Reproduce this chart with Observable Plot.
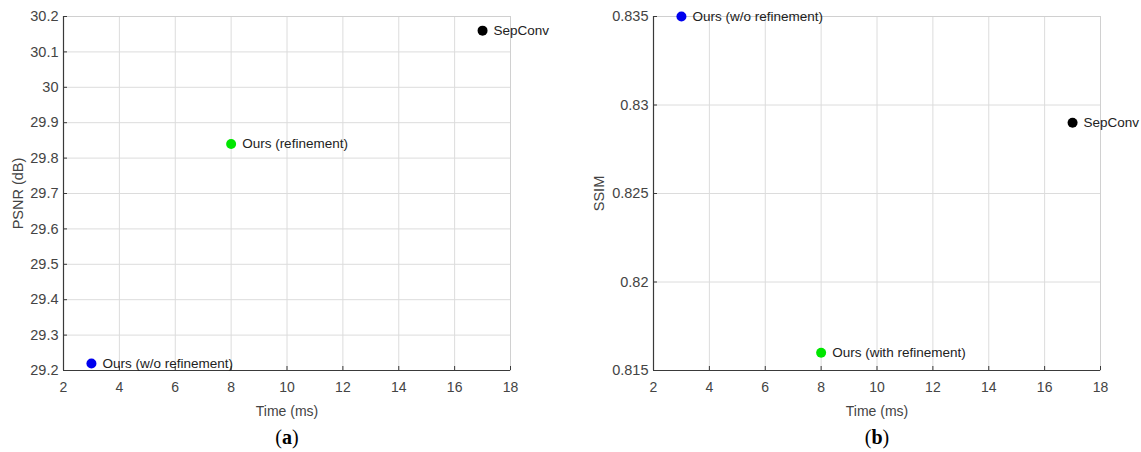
<!DOCTYPE html>
<html>
<head>
<meta charset="utf-8">
<script src="https://cdn.jsdelivr.net/npm/d3@7"></script>
<script src="https://cdn.jsdelivr.net/npm/@observablehq/plot@0.6"></script>
<style>
  html, body { margin: 0; padding: 0; background: #fff; }
  #wrap { position: relative; width: 1141px; height: 452px; overflow: hidden; font-family: "Liberation Sans", Arial, sans-serif; }
  .panel { position: absolute; top: 0; }
  .cap { position: absolute; top: 426px; font-family: "Liberation Serif", "DejaVu Serif", serif; font-size: 20px; color: #000; transform: translateX(-50%); }
  .cap b { font-weight: bold; }
</style>
</head>
<body>
<div id="wrap"></div>
<script>
// ---- data ----
const methodsA = ["Ours (w/o refinement)", "Ours (refinement)", "SepConv"];
const timeA = [3, 8, 17];
const psnrA = [29.22, 29.84, 30.16];

const methodsB = ["Ours (w/o refinement)", "Ours (with refinement)", "SepConv"];
const timeB = [3, 8, 17];
const ssimB = [0.835, 0.816, 0.829];

const colorsByMethod = ["#0000ee", "#00e600", "#000000"];

const xTicks = [2, 4, 6, 8, 10, 12, 14, 16, 18];
const yTicksA = [29.2, 29.3, 29.4, 29.5, 29.6, 29.7, 29.8, 29.9, 30.0, 30.1, 30.2];
const yTicksB = [0.815, 0.82, 0.825, 0.83, 0.835];

const wrap = document.getElementById("wrap");

function panel({methods, xs, ys, yTicks, yDomain, yLabel, yDigits, left, width, mLeft, mRight, yLabelOffset}) {
  const data = methods.map((m, i) => ({m, x: xs[i], y: ys[i], c: colorsByMethod[i]}));
  const fmt = d => String(+d.toFixed(yDigits));
  const axisColor = "#3a3a3a";
  const chart = Plot.plot({
    width, height: 420,
    marginLeft: mLeft, marginRight: mRight, marginTop: 16, marginBottom: 50,
    style: {fontFamily: "'Liberation Sans', Arial, sans-serif", fontSize: "14px", color: "#444", background: "#fff"},
    x: {domain: [2, 18], ticks: xTicks},
    y: {domain: yDomain, ticks: yTicks},
    marks: [
      Plot.gridX(xTicks, {stroke: "#dcdcdc", strokeOpacity: 1}),
      Plot.gridY(yTicks, {stroke: "#dcdcdc", strokeOpacity: 1}),
      Plot.frame({stroke: "#d0d0d0"}),
      Plot.axisX({ticks: xTicks, tickSize: -4, tickPadding: 16, stroke: axisColor, fill: "#444",
        label: "Time (ms)", labelAnchor: "center", labelArrow: "none", labelOffset: 45, fontSize: 14}),
      Plot.axisY({ticks: yTicks, tickFormat: fmt, tickSize: -4, tickPadding: 9, stroke: axisColor, fill: "#444",
        label: yLabel, labelAnchor: "center", labelArrow: "none", labelOffset: yLabelOffset, fontSize: 14.5}),
      Plot.ruleX([2], {stroke: axisColor, strokeWidth: 1.2}),
      Plot.ruleY([yDomain[0]], {stroke: axisColor, strokeWidth: 1.2}),
      Plot.dot(data, {x: "x", y: "y", r: 5, fill: "c", stroke: "none", clip: false}),
      Plot.text(data, {x: "x", y: "y", text: "m", textAnchor: "start", dx: 11, fill: "#222", fontSize: 13.5, clip: false})
    ]
  });
  chart.setAttribute("class", "panel");
  chart.style.left = left + "px";
  chart.style.overflow = "visible";
  wrap.appendChild(chart);
}

panel({methods: methodsA, xs: timeA, ys: psnrA, yTicks: yTicksA, yDomain: [29.2, 30.2], yLabel: "PSNR (dB)", yDigits: 1,
  left: 0, width: 570, mLeft: 63, mRight: 60, yLabelOffset: 51});
panel({methods: methodsB, xs: timeB, ys: ssimB, yTicks: yTicksB, yDomain: [0.815, 0.835], yLabel: "SSIM", yDigits: 3,
  left: 570, width: 571, mLeft: 83, mRight: 41, yLabelOffset: 60});

const capA = document.createElement("div");
capA.className = "cap"; capA.style.left = "287px"; capA.innerHTML = "(<b>a</b>)";
wrap.appendChild(capA);
const capB = document.createElement("div");
capB.className = "cap"; capB.style.left = "877px"; capB.innerHTML = "(<b>b</b>)";
wrap.appendChild(capB);
</script>
</body>
</html>
